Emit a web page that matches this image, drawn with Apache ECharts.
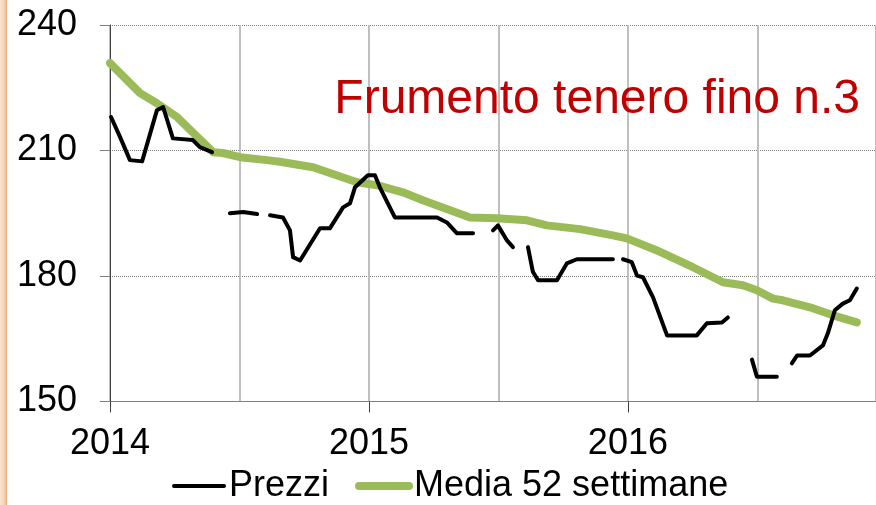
<!DOCTYPE html>
<html>
<head>
<meta charset="utf-8">
<script src="https://cdn.jsdelivr.net/npm/echarts@6/dist/echarts.min.js"></script>
<style>
    html, body { margin: 0; padding: 0; background: #fff; }
    #chart { width: 876px; height: 505px; }
</style>
</head>
<body>
<div id="chart"></div>
<script>
// prezzi settimanali (null = settimana senza quotazione)
var priceYears = [2014.004, 2014.039, 2014.077, 2014.124, 2014.181, 2014.205, 2014.243, 2014.320, 2014.347, 2014.394, 2014.40,
    2014.463, 2014.514, 2014.568, 2014.59,
    2014.618, 2014.668, 2014.695, 2014.707, 2014.734, 2014.811, 2014.849, 2014.900, 2014.927, 2014.946, 2014.996, 2015.023, 2015.042, 2015.100, 2015.263, 2015.301, 2015.340, 2015.402, 2015.44,
    2015.479, 2015.498, 2015.533, 2015.556, 2015.58,
    2015.614, 2015.633, 2015.653, 2015.726, 2015.764, 2015.803, 2015.942, 2015.96,
    2015.981, 2016.015, 2016.035, 2016.058, 2016.097, 2016.151, 2016.266, 2016.305, 2016.363, 2016.386, 2016.43,
    2016.479, 2016.498, 2016.575, 2016.60,
    2016.633, 2016.653, 2016.703, 2016.753, 2016.772, 2016.799, 2016.830, 2016.857, 2016.884];
var priceValues = [218.0, 213.2, 207.7, 207.4, 219.6, 220.4, 212.9, 212.5, 210.8, 209.6, null,
    195.0, 195.3, 194.8, null,
    194.5, 194.0, 190.9, 184.5, 183.7, 191.4, 191.4, 196.4, 197.4, 201.2, 204.1, 204.1, 201.2, 194.0, 194.0, 192.8, 190.2, 190.2, null,
    190.9, 192.1, 188.5, 186.9, null,
    186.9, 181.0, 179.0, 179.0, 183.0, 184.0, 184.0, null,
    184.0, 183.3, 180.1, 179.7, 174.9, 165.8, 165.8, 168.7, 168.9, 170.1, null,
    160.0, 155.9, 155.9, null,
    159.1, 161.0, 161.0, 163.4, 166.3, 171.8, 173.4, 174.2, 177.0];

// media mobile 52 settimane
var avgYears = [2014.000, 2014.116, 2014.181, 2014.259, 2014.398, 2014.436, 2014.502, 2014.606, 2014.656, 2014.784,
    2014.954, 2015.031, 2015.131, 2015.208, 2015.390, 2015.494, 2015.610, 2015.687, 2015.815, 2015.942, 2015.996,
    2016.112, 2016.251, 2016.367, 2016.444, 2016.498, 2016.560, 2016.598, 2016.714, 2016.792, 2016.884];
var avgValues = [230.9, 223.7, 221.3, 218.0, 209.6, 209.4, 208.4, 207.7, 207.3, 206.0,
    202.4, 201.7, 200.0, 198.1, 194.0, 193.8, 193.3, 192.1, 191.2, 189.7, 189.0,
    186.1, 182.1, 178.5, 177.8, 176.6, 174.6, 174.2, 172.3, 170.6, 168.9];

var yTicks = [150, 180, 210, 240];
var xYears = [2014, 2015, 2016];
var xMax = 2016.958; // il grafico e' tagliato sul bordo destro
var titleText = 'Frumento tenero fino n.3';
var seriesNames = ['Prezzi', 'Media 52 settimane'];

var FONT = 'Liberation Sans, Arial, sans-serif';

function pairs(xs, ys) {
    var out = [];
    for (var i = 0; i < xs.length; i++) {
        out.push([xs[i], ys[i] == null ? '-' : ys[i]]);
    }
    return out;
}

var chart = echarts.init(document.getElementById('chart'), null, { renderer: 'canvas' });
chart.setOption({
    backgroundColor: '#ffffff',
    animation: false,
    title: {
        text: titleText,
        right: 16,
        top: 76,
        padding: 0,
        textStyle: { color: '#c00000', fontSize: 48, fontWeight: 'normal', fontFamily: FONT }
    },
    legend: {
        data: seriesNames,
        left: 172,
        top: 468,
        padding: 0,
        itemWidth: 50,
        itemHeight: 14,
        itemGap: 26,
        itemStyle: { color: 'rgba(0,0,0,0)', borderWidth: 0 },
        lineStyle: { width: 'inherit', cap: 'round' },
        textStyle: { color: '#000', fontSize: 36, fontFamily: FONT }
    },
    graphic: [{
        type: 'rect',
        left: 0, top: 0,
        shape: { width: 7, height: 505 },
        style: {
            fill: new echarts.graphic.LinearGradient(0, 0, 1, 0, [
                { offset: 0, color: '#fbe6d2' },
                { offset: 0.6, color: '#f6d3b3' },
                { offset: 1, color: '#e6ad86' }
            ])
        },
        silent: true
    }],
    grid: { left: 110, top: 25, right: 0, height: 376.5, containLabel: false },
    xAxis: [{
        type: 'value',
        min: 2014, max: xMax, interval: 0.5,
        position: 'bottom',
        axisLine: { show: true, lineStyle: { color: '#808080', width: 1 } },
        axisTick: { show: false },
        axisLabel: { show: false },
        splitLine: { show: true, lineStyle: { color: '#bfbfbf', width: 2 } }
    }, {
        type: 'value',
        min: 2014, max: xMax, interval: 1,
        position: 'bottom',
        axisLine: { show: false },
        axisTick: { show: true, length: 11, customValues: xYears, lineStyle: { color: '#404040' } },
        axisLabel: {
            margin: 25, fontSize: 36, color: '#000', fontFamily: FONT,
            customValues: xYears,
            formatter: function (v) { return String(v); }
        },
        splitLine: { show: false }
    }],
    yAxis: {
        type: 'value',
        min: yTicks[0], max: yTicks[yTicks.length - 1], interval: 30,
        axisLine: { show: true, lineStyle: { color: '#404040', width: 1 } },
        axisTick: { show: true, length: 10, lineStyle: { color: '#808080' } },
        axisLabel: { margin: 33, fontSize: 36, color: '#000', fontFamily: FONT },
        splitLine: { show: true, lineStyle: { color: '#7f7f7f', width: 1, type: [1, 1] } }
    },
    series: [{
        name: seriesNames[0],
        type: 'line',
        xAxisIndex: 0,
        data: pairs(priceYears, priceValues),
        symbol: 'none',
        connectNulls: false,
        z: 4,
        itemStyle: { color: '#000' },
        lineStyle: { color: '#000', width: 4, cap: 'round', join: 'round' }
    }, {
        name: seriesNames[1],
        type: 'line',
        xAxisIndex: 0,
        data: pairs(avgYears, avgValues),
        symbol: 'none',
        z: 3,
        itemStyle: { color: '#9bbb59' },
        lineStyle: { color: '#9bbb59', width: 8, cap: 'round', join: 'round' }
    }]
});
</script>
</body>
</html>
